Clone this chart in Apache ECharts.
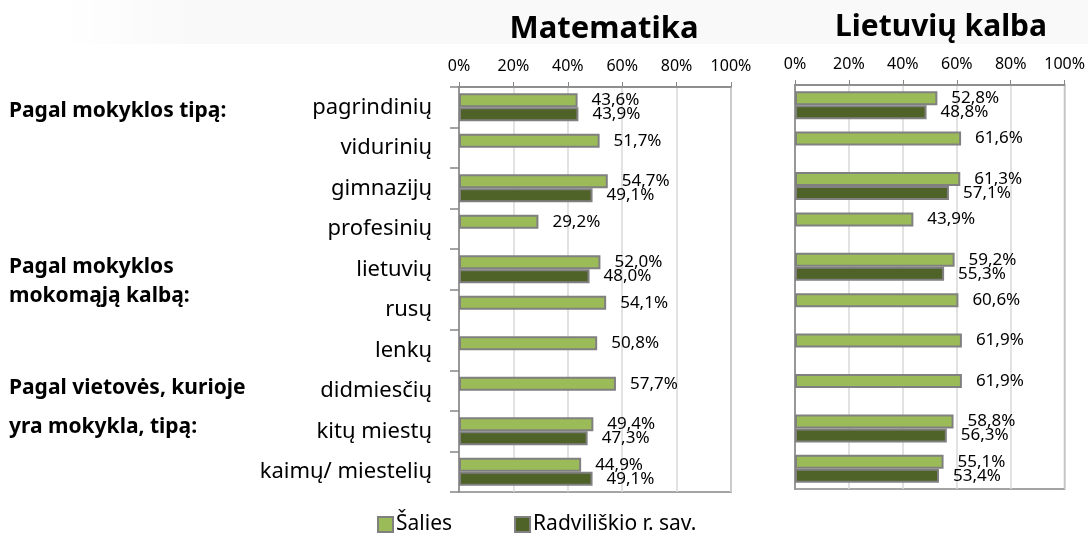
<!DOCTYPE html>
<html>
<head>
<meta charset="utf-8">
<script src="https://cdn.jsdelivr.net/npm/echarts@6/dist/echarts.min.js"></script>
<style>
    html, body { margin: 0; padding: 0; background: #fff; }
    #chart { width: 1088px; height: 535px; }
</style>
</head>
<body>
<div id="chart"></div>
<script>
// kategorijos
var categories = ['pagrindinių', 'vidurinių', 'gimnazijų', 'profesinių', 'lietuvių', 'rusų', 'lenkų', 'didmiesčių', 'kitų miestų', 'kaimų/ miestelių'];
var xTicks = [0, 20, 40, 60, 80, 100];
// Matematika
var matSalies = [43.6, 51.7, 54.7, 29.2, 52.0, 54.1, 50.8, 57.7, 49.4, 44.9];
var matRad = [43.9, null, 49.1, null, 48.0, null, null, null, 47.3, 49.1];
// Lietuvių kalba
var litSalies = [52.8, 61.6, 61.3, 43.9, 59.2, 60.6, 61.9, 61.9, 58.8, 55.1];
var litRad = [48.8, null, 57.1, null, 55.3, null, null, null, 56.3, 53.4];

var FONT = 'Noto Sans';
var LIGHT = '#9BBB59', DARK = '#4F6228', EDGE = '#808080';

function pct(p) {
    return p.value.toFixed(1).replace('.', ',') + '%';
}

function xAxisOf(idx) {
    return {
        type: 'value', gridIndex: idx, position: 'top',
        min: xTicks[0], max: xTicks[xTicks.length - 1], interval: 20,
        axisLine: { show: true, lineStyle: { color: '#868686', width: 1.5 } },
        axisTick: { show: true, length: 5, lineStyle: { color: '#868686' } },
        axisLabel: { formatter: '{value}%', fontFamily: FONT, fontSize: 16, color: '#000', margin: 13 },
        splitLine: { show: true, lineStyle: { color: '#D9D9D9', width: 1.5 } }
    };
}

function barSeries(name, color, data, idx) {
    return {
        name: name, type: 'bar', xAxisIndex: idx, yAxisIndex: idx,
        data: data, barWidth: 14, barGap: '0%',
        itemStyle: { color: color, borderColor: EDGE, borderWidth: 2 },
        label: {
            show: true, position: 'right', distance: 14, formatter: pct,
            fontFamily: FONT, fontSize: 17, color: '#000'
        }
    };
}

var groupStyle = { fontFamily: FONT, fontSize: 21, fontWeight: 'bold', fill: '#000', align: 'left', verticalAlign: 'middle' };
function groupText(txt, y) {
    return { type: 'text', left: 9, top: y - 13, style: Object.assign({ text: txt }, groupStyle) };
}

var myChart = echarts.init(document.getElementById('chart'));
var option = {
    animation: false,
    backgroundColor: '#fff',
    textStyle: { fontFamily: FONT },
    title: [
        { text: 'Matematika', left: 599, top: 9, textAlign: 'center',
          textStyle: { fontFamily: FONT, fontSize: 31, fontWeight: 'bold', color: '#000' } },
        { text: 'Lietuvių kalba', left: 936, top: 7, textAlign: 'center',
          textStyle: { fontFamily: FONT, fontSize: 30, fontWeight: 'bold', color: '#000' } }
    ],
    legend: {
        data: ['Šalies', 'Radviliškio r. sav.'],
        left: 372, top: 509, icon: 'rect', itemWidth: 15, itemHeight: 15, itemGap: 62,
        textStyle: { fontFamily: FONT, fontSize: 21, color: '#000', padding: [0, 0, 0, -2] }
    },
    grid: [
        { left: 459, right: 357, top: 87, bottom: 43, show: true, borderColor: '#868686', borderWidth: 1.5 },
        { left: 795, right: 21, top: 85, bottom: 46, show: true, borderColor: '#868686', borderWidth: 1.5 }
    ],
    xAxis: [xAxisOf(0), xAxisOf(1)],
    yAxis: [
        {
            type: 'category', gridIndex: 0, data: categories, inverse: true,
            axisLine: { show: true, lineStyle: { color: '#868686', width: 1.5 } },
            axisTick: { show: true, length: 9, alignWithLabel: false, lineStyle: { color: '#868686', width: 1.5 } },
            axisLabel: { fontFamily: FONT, fontSize: 22, color: '#000', margin: 27 }
        },
        {
            type: 'category', gridIndex: 1, data: categories, inverse: true,
            axisLine: { show: true, lineStyle: { color: '#868686', width: 1.5 } },
            axisTick: { show: false },
            axisLabel: { show: false }
        }
    ],
    graphic: [
        {
            type: 'rect', z: -10, silent: true,
            shape: { x: 60, y: 0, width: 1028, height: 44 },
            style: {
                fill: new echarts.graphic.LinearGradient(0, 0, 1, 0, [
                    { offset: 0, color: 'rgba(0,0,0,0)' },
                    { offset: 0.12, color: 'rgba(0,0,0,0.025)' },
                    { offset: 1, color: 'rgba(0,0,0,0.025)' }
                ])
            }
        },
        groupText('Pagal mokyklos tipą:', 114),
        groupText('Pagal mokyklos', 270),
        groupText('mokomąją kalbą:', 299),
        groupText('Pagal vietovės, kurioje', 391),
        groupText('yra mokykla, tipą:', 430)
    ],
    series: [
        barSeries('Šalies', LIGHT, matSalies, 0),
        barSeries('Radviliškio r. sav.', DARK, matRad, 0),
        barSeries('Šalies', LIGHT, litSalies, 1),
        barSeries('Radviliškio r. sav.', DARK, litRad, 1)
    ]
};
if (option && typeof option === "object") {
    myChart.setOption(option, true);
}
</script>
</body>
</html>
